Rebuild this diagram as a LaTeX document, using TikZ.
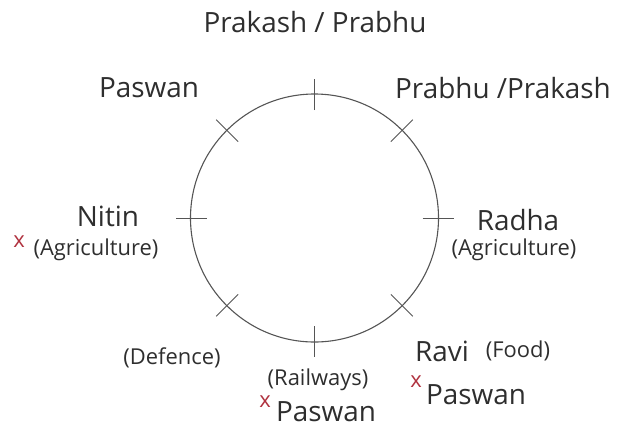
\documentclass[tikz,border=0pt]{standalone}
\usepackage{fontspec}
\usetikzlibrary{calc}
\setmainfont{Open Sans}
\definecolor{txt}{HTML}{2E2E2E}
\definecolor{crossred}{HTML}{B0323F}
\definecolor{ln}{HTML}{555555}
\begin{document}
\begin{tikzpicture}[x=1bp,y=-1bp,
  big/.style={text=txt,font=\fontsize{28}{32}\selectfont,inner sep=0pt},
  small/.style={text=txt,font=\fontsize{22}{26}\selectfont,inner sep=0pt},
  redx/.style={text=crossred,font=\fontsize{22}{26}\selectfont,inner sep=0pt},
  tick/.style={draw=ln,line width=1bp}]
\useasboundingbox (0,0) rectangle (618,430);
\coordinate (c) at (314.5,218);
\draw[ln,line width=1.1bp] (c) circle[radius=124];
% ticks
\foreach \a in {90,270,0,180,45,135,225,315}{
  \draw[tick] ($(c)+(\a:108)$) -- ($(c)+(\a:139)$);
}
% labels
\node[big] (pp) at (315,22) {Prakash / Prabhu};
\node[big] (pw1) at (149,88) {Paswan};
\node[big] (pr) at (503,88) {Prabhu /Prakash};
\node[big] (ni) at (108,216) {Nitin};
\node[small] (agl) at (96,250) {(Agriculture)};
\node[redx] (x1) at (19,242) {x};
\node[big] (ra) at (518,220) {Radha};
\node[small] (agr) at (514,250) {(Agriculture)};
\node[small] (de) at (172,358) {(Defence)};
\node[small] (rl) at (318,380) {(Railways)};
\node[redx] (x2) at (265,402) {x};
\node[big,text depth=0pt,anchor=base] (pw2) at (326,421) {Paswan};
\node[big] (rv) at (442,351) {Ravi};
\node[small] (fd) at (518,351) {(Food)};
\node[redx] (x3) at (416,382) {x};
\node[big] (pw3) at (476,395) {Paswan};
\end{tikzpicture}
\end{document}
